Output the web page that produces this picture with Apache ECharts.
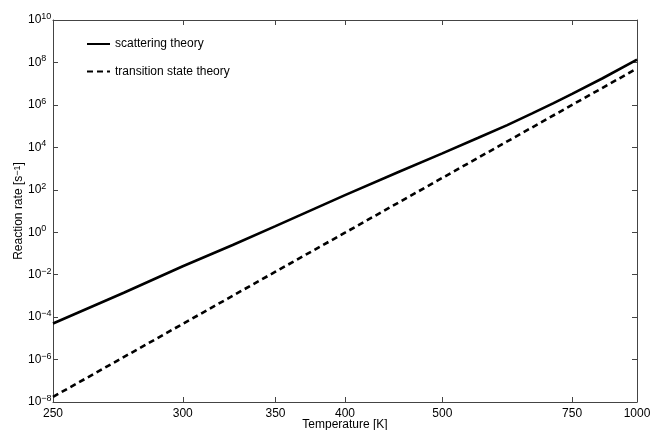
<!DOCTYPE html>
<html>
<head>
<meta charset="utf-8">
<script src="https://cdn.jsdelivr.net/npm/echarts@6/dist/echarts.min.js"></script>
<style>
html,body{margin:0;padding:0;background:#fff;}
#c{width:651px;height:430px;}
</style>
</head>
<body>
<div id="c"></div>
<script>
// ---- data ----
const xTickTemps = [250, 300, 350, 400, 500, 750, 1000];          // K
const scatTemps  = [250, 275, 300, 325, 350, 400, 450, 500, 550, 600, 650, 700, 750, 850, 1000];
const scatRates  = [5.0e-5, 1.41e-3, 2.5e-2, 0.25, 1.95, 56, 710, 5200, 2.75e4, 1.12e5, 4.0e5, 1.22e6, 3.3e6, 1.8e7, 1.35e8];
const tstTemps   = [250, 300, 350, 400, 500, 600, 750, 1000];
const tstRates   = [1.74e-8, 4.8e-5, 1.38e-2, 0.95, 363, 1.9e4, 1.0e6, 5.2e7];
const seriesNames = ['scattering theory', 'transition state theory'];

// x axis is linear in 1000/T (Arrhenius style)
const inv = t => 1000 / t;
const xTicks = xTickTemps.map(inv);

const axisColor = '#444';
const font = 'Liberation Sans, Arial, Helvetica, sans-serif';

function supLabel(v) {
  const e = Math.round(Math.log10(v));
  const s = (e < 0 ? '\u2212' + (-e) : '' + e);
  return '{b|10}{s|' + s + '}';
}

const xBase = {
  type: 'value', min: 1, max: 4, inverse: true, gridIndex: 0,
  axisLine: { show: true, onZero: false, lineStyle: { color: axisColor, width: 1 } },
  axisTick: { show: true, inside: true, length: 5, customValues: xTicks, lineStyle: { color: axisColor } },
  splitLine: { show: false }
};
const yBase = {
  type: 'log', logBase: 10, min: 1e-8, max: 1e10, interval: 2, gridIndex: 0,
  axisLine: { show: true, onZero: false, lineStyle: { color: axisColor, width: 1 } },
  axisTick: { show: true, inside: true, length: 5, lineStyle: { color: axisColor } },
  minorTick: { show: false },
  splitLine: { show: false }
};

const chart = echarts.init(document.getElementById('c'), null, { renderer: 'canvas' });
chart.setOption({
  backgroundColor: '#ffffff',
  animation: false,
  textStyle: { fontFamily: font },
  grid: { left: 53, right: 14, top: 20, bottom: 28, containLabel: false, outerBoundsMode: 'none' },
  legend: {
    data: seriesNames,
    orient: 'vertical',
    left: 86, top: 38,
    padding: 0,
    itemWidth: 23, itemHeight: 14, itemGap: 15.6,
    itemStyle: { opacity: 0 },
    textStyle: { fontSize: 12, color: '#000', fontFamily: font }
  },
  xAxis: [
    Object.assign({}, xBase, {
      position: 'bottom',
      name: 'Temperature [K]', nameLocation: 'middle', nameGap: 17, nameMoveOverlap: false,
      nameTextStyle: { fontSize: 12, color: '#000', fontFamily: font, verticalAlign: 'top' },
      axisLabel: {
        show: true, customValues: xTicks, margin: 6, fontSize: 12, color: '#000', fontFamily: font,
        formatter: v => String(Math.round(1000 / v))
      }
    }),
    Object.assign({}, xBase, { position: 'top', axisLabel: { show: false } })
  ],
  yAxis: [
    Object.assign({}, yBase, {
      position: 'left',
      name: 'Reaction rate [s{sup|\u22121}]', nameLocation: 'middle', nameGap: 28, nameMoveOverlap: false,
      nameTextStyle: {
        fontSize: 12, color: '#000', fontFamily: font,
        rich: { sup: { fontSize: 9, lineHeight: 10, verticalAlign: 'top', color: '#000', fontFamily: font } }
      },
      axisLabel: {
        show: true, align: 'left', margin: 25, color: '#000',
        formatter: supLabel,
        rich: {
          b: { fontSize: 12, lineHeight: 16, color: '#000', fontFamily: font },
          s: { fontSize: 9, lineHeight: 10, verticalAlign: 'top', color: '#000', fontFamily: font }
        }
      }
    }),
    Object.assign({}, yBase, { position: 'right', axisLabel: { show: false } })
  ],
  series: [
    {
      name: seriesNames[0], type: 'line', xAxisIndex: 0, yAxisIndex: 0,
      data: scatTemps.map((t, i) => [inv(t), scatRates[i]]),
      showSymbol: false, symbol: 'none', smooth: false,
      lineStyle: { color: '#000', width: 2.6, type: 'solid' },
      itemStyle: { color: '#000' }
    },
    {
      name: seriesNames[1], type: 'line', xAxisIndex: 0, yAxisIndex: 0,
      data: tstTemps.map((t, i) => [inv(t), tstRates[i]]),
      showSymbol: false, symbol: 'none', smooth: false,
      lineStyle: { color: '#000', width: 2.6, type: [6, 4] },
      itemStyle: { color: '#000' }
    }
  ]
});
</script>
</body>
</html>
